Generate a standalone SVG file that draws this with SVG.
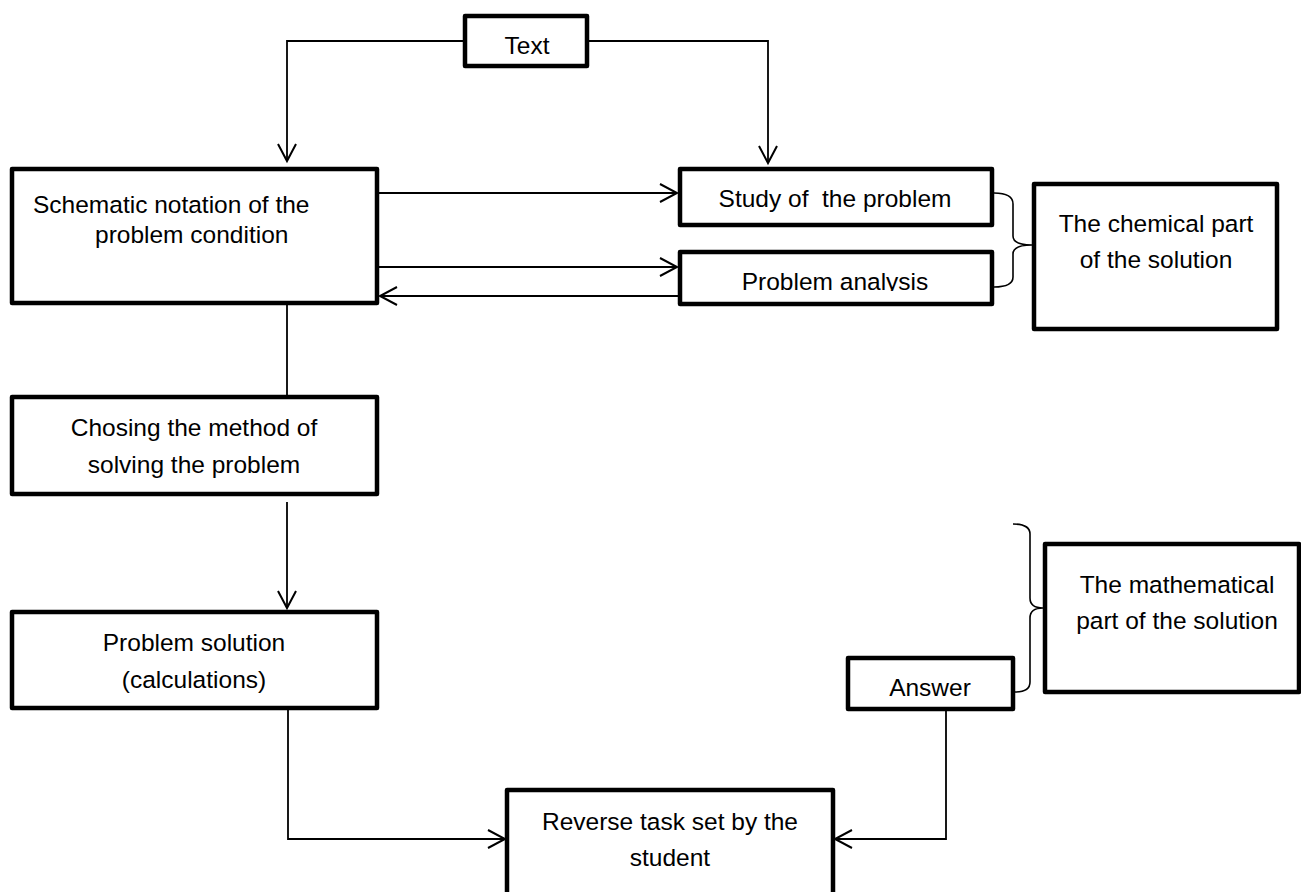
<svg xmlns="http://www.w3.org/2000/svg" width="1301" height="892" viewBox="0 0 1301 892">
<style>
.box{fill:#fff;stroke:#000;stroke-width:4.5;stroke-linejoin:round}
.con{fill:none;stroke:#000;stroke-width:1.8}
.br{fill:none;stroke:#000;stroke-width:1.6}
text{font-family:"Liberation Sans",Arial,sans-serif;font-size:24.5px;fill:#000}
.c{text-anchor:middle}
</style>
<defs>
<marker id="arr" markerUnits="userSpaceOnUse" markerWidth="22" markerHeight="22" refX="18" refY="10" orient="auto" viewBox="0 0 22 20">
<path d="M1,1 L18,10 L1,19" fill="none" stroke="#000" stroke-width="2"/>
</marker>
<clipPath id="clipA"><rect x="680" y="252" width="312" height="39"/></clipPath>
</defs>
<rect width="1301" height="892" fill="#fff"/>
<g id="connectors">
<path class="con" d="M465,41 H287 V161" marker-end="url(#arr)"/>
<path class="con" d="M588,41 H768 V163" marker-end="url(#arr)"/>
<path class="con" d="M379,193 H677" marker-end="url(#arr)"/>
<path class="con" d="M379,267 H677" marker-end="url(#arr)"/>
<path class="con" d="M678,296 H380" marker-end="url(#arr)"/>
<path class="con" d="M287,305 V395"/>
<path class="con" d="M287,502 V608" marker-end="url(#arr)"/>
<path class="con" d="M288,710 V839 H505" marker-end="url(#arr)"/>
<path class="con" d="M946,711 V839 H835" marker-end="url(#arr)"/>
<path class="br" d="M994,193 Q1013,193 1013,204 V236 Q1013,245 1032,245 Q1013,245 1013,254 V277 Q1013,287 994,287"/>
<path class="br" d="M1013,524 Q1030,524 1030,534 V598 Q1030,608 1043,608 Q1030,608 1030,618 V682 Q1030,692 1015,692"/>
</g>
<g id="text-node">
<rect class="box" x="465" y="16" width="122" height="50"/>
<text class="c" x="527" y="54">Text</text>
</g>
<g id="schematic">
<rect class="box" x="12" y="169" width="365" height="134"/>
<text x="33" y="213">Schematic notation of the</text>
<text x="95" y="243">problem condition</text>
</g>
<g id="study">
<rect class="box" x="680" y="169" width="312" height="56"/>
<text class="c" x="835" y="207" xml:space="preserve">Study of  the problem</text>
</g>
<g id="analysis">
<rect class="box" x="680" y="252" width="312" height="52"/>
<text class="c" x="835" y="290" clip-path="url(#clipA)">Problem analysis</text>
</g>
<g id="chemical">
<rect class="box" x="1034" y="184" width="243" height="145"/>
<text class="c" x="1156" y="232">The chemical part</text>
<text class="c" x="1156" y="268">of the solution</text>
</g>
<g id="chosing">
<rect class="box" x="12" y="397" width="365" height="97"/>
<text class="c" x="194" y="436">Chosing the method of</text>
<text class="c" x="194" y="473">solving the problem</text>
</g>
<g id="solution">
<rect class="box" x="12" y="612" width="365" height="96"/>
<text class="c" x="194" y="651">Problem solution</text>
<text class="c" x="194" y="688">(calculations)</text>
</g>
<g id="answer">
<rect class="box" x="848" y="658" width="165" height="51"/>
<text class="c" x="930" y="696">Answer</text>
</g>
<g id="mathematical">
<rect class="box" x="1045" y="544" width="254" height="148"/>
<text class="c" x="1177" y="593">The mathematical</text>
<text class="c" x="1177" y="629">part of the solution</text>
</g>
<g id="reverse">
<rect class="box" x="507" y="790" width="326" height="130"/>
<text class="c" x="670" y="830">Reverse task set by the</text>
<text class="c" x="670" y="866">student</text>
</g>
</svg>
